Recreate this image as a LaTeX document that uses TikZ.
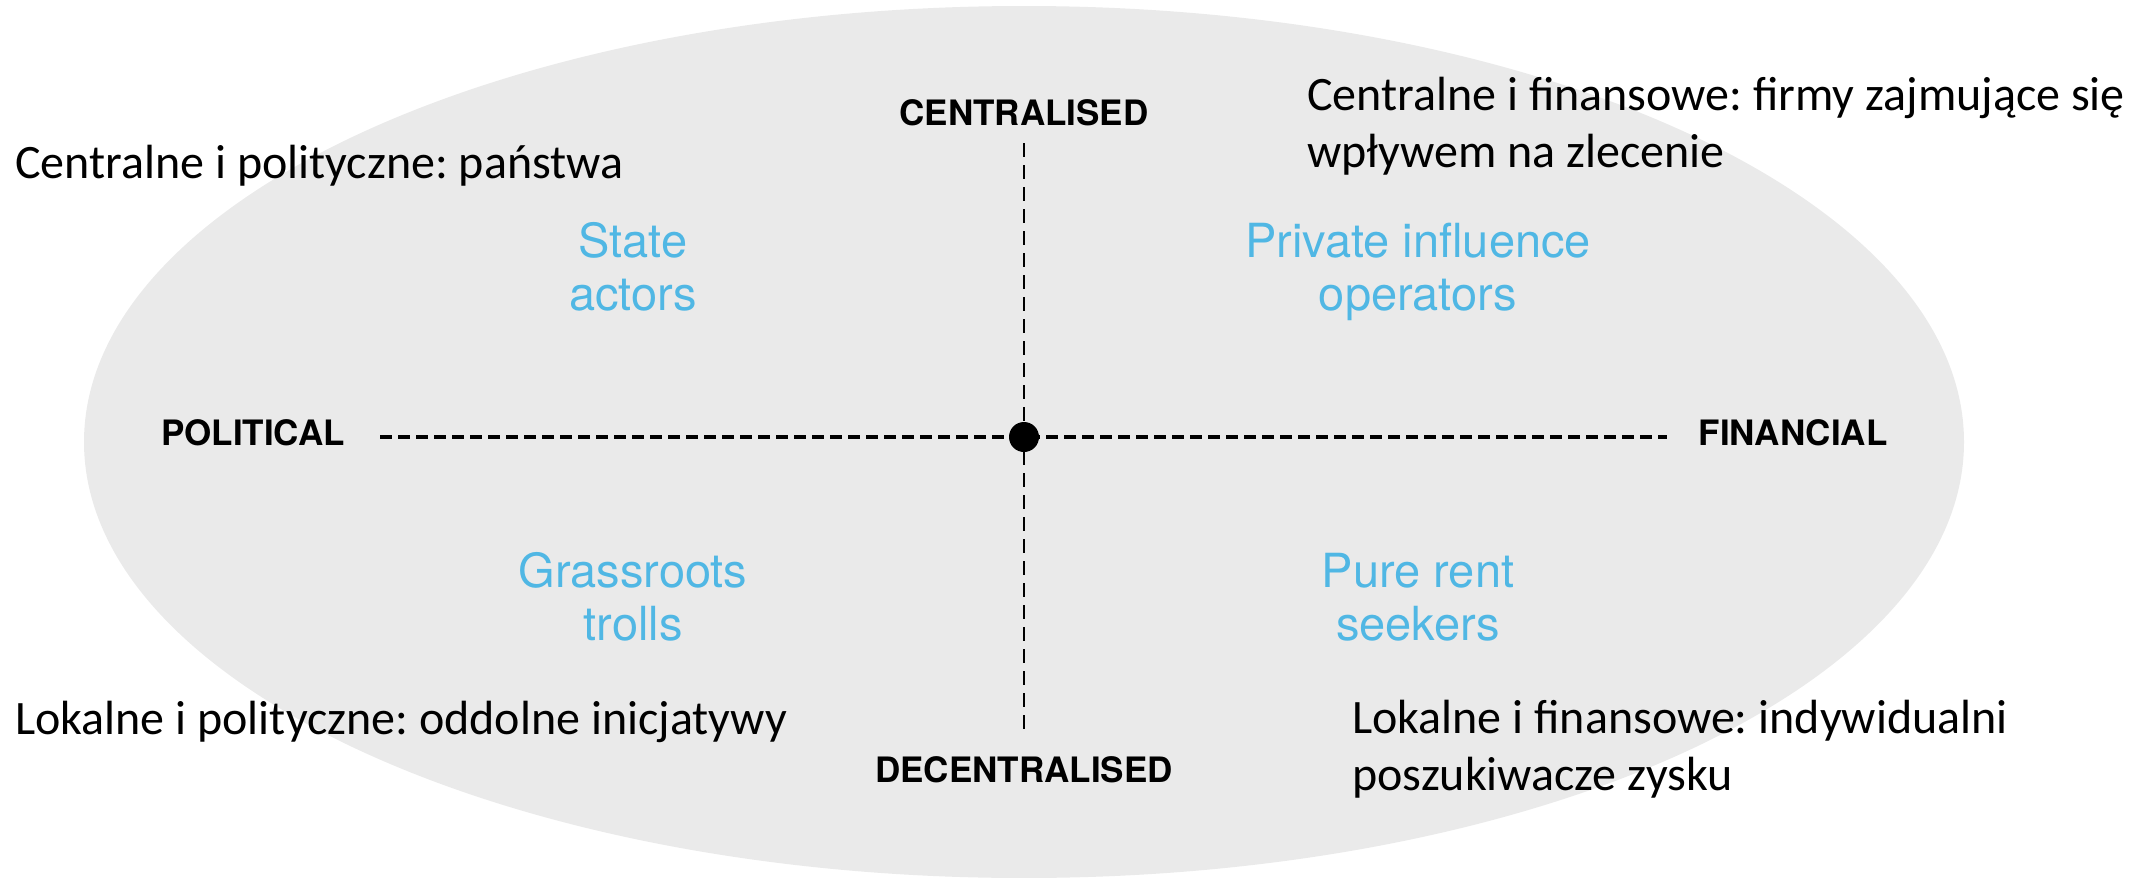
\documentclass[tikz,border=0pt]{standalone}
\usepackage{fontspec}
\setmainfont{Carlito}
\newfontfamily\helv{TeX Gyre Heros}
\definecolor{ellgrey}{RGB}{234,234,234}
\definecolor{tblue}{RGB}{80,183,228}
\frenchspacing
\begin{document}
\begin{tikzpicture}[x=1pt,y=-1pt,
  axislabel/.style={font=\helv\bfseries\fontsize{35}{40}\selectfont, inner sep=0pt},
  quad/.style={font=\helv\fontsize{47}{53}\selectfont, text=tblue, align=center, inner sep=0pt},
  note/.style={font=\fontsize{48}{57}\selectfont, align=left, inner sep=0pt},
  haxis/.style={line width=3.2pt, dash pattern=on 12pt off 6pt},
  vaxis/.style={line width=2.4pt, dash pattern=on 14pt off 8pt},
  centredot/.style={fill=black, circle, minimum size=30pt, inner sep=0pt}
]
\useasboundingbox (0,0) rectangle (2156,878);
\fill[ellgrey] (1024,442) ellipse [x radius=940, y radius=436];

\coordinate (top) at (1024,143);
\coordinate (bot) at (1024,731);
\coordinate (lft) at (380,437);
\coordinate (rgt) at (1667,437);
\coordinate (mid) at (1024,437);

\draw[haxis] (lft) -- (rgt);
\draw[vaxis] (top) -- (bot);
\node[centredot] (c) at (mid) {};

\node[axislabel, anchor=base] (cen) at (1024,125) {CENTRALISED};
\node[axislabel, anchor=base] (dec) at (1024,782) {DECENTRALISED};
\node[axislabel, anchor=base] (pol) at (253,445) {POLITICAL};
\node[axislabel, anchor=base] (fin) at (1793,445) {FINANCIAL};

\node[quad, anchor=base] (state) at (633,310) {State\\actors};
\node[quad, anchor=base] (priv) at (1418,310) {Private influence\\operators};
\node[quad, anchor=base] (grass) at (633,640) {Grassroots\\trolls};
\node[quad, anchor=base] (pure) at (1418,640) {Pure rent\\seekers};

\node[note, anchor=base west] (n1) at (15,178) {Centralne i polityczne: państwa};
\node[note, anchor=base west] (n2) at (1307,167) {Centralne i finansowe: firmy zajmujące się\\wpływem na zlecenie};
\node[note, anchor=base west] (n3) at (15,734) {Lokalne i polityczne: oddolne inicjatywy};
\node[note, anchor=base west] (n4) at (1352,790) {Lokalne i finansowe: indywidualni\\poszukiwacze zysku};
\end{tikzpicture}
\end{document}
